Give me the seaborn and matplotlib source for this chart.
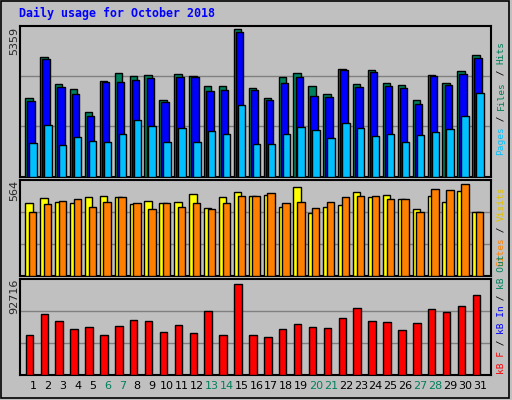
import numpy as np
import pandas as pd
import seaborn as sns
import matplotlib
matplotlib.use("Agg")
import matplotlib.pyplot as plt

days = list(range(1, 32))
weekends = [6, 7, 13, 14, 20, 21, 27, 28]

hits = [2855, 4343, 3363, 3182, 2347, 3472, 3762, 3653, 3690, 2783, 3726, 3653, 3291, 3291, 5359, 3218,
        2855, 3617, 3762, 3291, 3000, 3907, 3363, 3871, 3399, 3327, 2783, 3690, 3399, 3835, 4415]
files = [2746, 4270, 3254, 3000, 2202, 3436, 3436, 3508, 3581, 2710, 3617, 3617, 3109, 3146, 5250, 3146,
         2783, 3399, 3617, 2928, 2892, 3871, 3254, 3799, 3291, 3218, 2638, 3653, 3327, 3726, 4306]
pages = [1223, 1876, 1150, 1440, 1295, 1259, 1549, 2057, 1839, 1259, 1767, 1259, 1658, 1549, 2601, 1186,
         1186, 1549, 1803, 1694, 1404, 1948, 1767, 1477, 1549, 1259, 1513, 1622, 1731, 2202, 3037]
visits = [447, 478, 453, 447, 484, 490, 484, 441, 459, 447, 453, 502, 416, 484, 515, 490,
          496, 422, 546, 386, 422, 435, 515, 484, 496, 472, 410, 490, 453, 521, 392]
sites = [392, 441, 459, 472, 422, 453, 484, 447, 410, 447, 422, 447, 410, 447, 490, 490,
         509, 447, 453, 416, 453, 484, 490, 490, 472, 472, 392, 533, 527, 564, 392]
kbytes = [40754, 62150, 55018, 46867, 48905, 40754, 49924, 56037, 55018, 43811, 50943, 42792, 65207, 40754,
          92716, 40754, 38717, 46867, 51962, 48905, 47886, 58075, 68264, 55018, 54000, 45849, 52981, 67245,
          64189, 70302, 81509]

df = pd.DataFrame({"day": days, "hits": hits, "files": files, "pages": pages,
                   "visits": visits, "sites": sites, "kbytes": kbytes})

C_HITS, C_FILES, C_PAGES = "#00805c", "#0000ff", "#00c0ff"
C_VISITS, C_SITES, C_KB = "#ffff00", "#ff8000", "#ff0000"
GRAY = "#c0c0c0"
MONO = "DejaVu Sans Mono"

sns.set_style("white")
W, H = 512, 400
fig = plt.figure(figsize=(5.12, 4.0), dpi=100, facecolor=GRAY)


def px_axes(x0, y0, x1, y1):
    return fig.add_axes([x0 / W, 1 - y1 / H, (x1 - x0) / W, (y1 - y0) / H])


ax1 = px_axes(20, 25.7, 491, 176.7)
ax2 = px_axes(20, 180.3, 491, 276)
ax3 = px_axes(20, 279, 491, 375.3)

series = [
    (ax1, [("hits", C_HITS, -0.52), ("files", C_FILES, -0.38), ("pages", C_PAGES, -0.25)], 5359 * 151 / 147.7),
    (ax2, [("visits", C_VISITS, -0.52), ("sites", C_SITES, -0.27)], 564 * 95.7 / 91.7),
    (ax3, [("kbytes", C_KB, -0.49)], 92716 * 96.3 / 91),
]
for ax, cols, top in series:
    ax.set_facecolor(GRAY)
    for col, color, off in cols:
        ax.bar(df["day"] + off, df[col], width=0.5, align="edge", color=color,
               edgecolor="black", linewidth=1.0, zorder=3)
    ax.set_ylim(0, top)
    ax.set_xlim(0.13, 31.74)
    for g in (top / 3, 2 * top / 3):
        ax.axhline(g, color="#808080", linewidth=1, zorder=1)
    ax.set_yticks([])
    for s in ax.spines.values():
        s.set_color("black")
        s.set_linewidth(1.5)
    ax.set_xticks([])

ax3.set_xticks(days)
ax3.set_xticklabels([str(d) for d in days], fontsize=8)
ax3.tick_params(axis="x", length=0, pad=4)
for lbl, d in zip(ax3.get_xticklabels(), days):
    lbl.set_color(C_HITS if d in weekends else "black")

# title
fig.text(19 / W, 1 - 13 / H, "Daily usage for October 2018", color="#0000ff",
         fontsize=8.4, fontweight="bold", family=MONO, va="center", ha="left")

# left max labels
for txt, ytop in [("5359", 27), ("564", 180), ("92716", 279)]:
    fig.text(14 / W, 1 - ytop / H, txt, rotation=90, rotation_mode="anchor",
             ha="right", va="center", fontsize=8, family="DejaVu Sans")

# right legends, read bottom to top
FS = 6.8
CH = 0.602 * FS * 100 / 72


def legend(pieces, ybottom):
    y = ybottom
    for txt, color in pieces:
        fig.text(501 / W, 1 - y / H, txt, rotation=90, rotation_mode="anchor",
                 ha="left", va="center", color=color, fontsize=FS, family=MONO)
        y -= len(txt) * CH


legend([("Pages", C_PAGES), (" / ", "black"), ("Files", C_HITS), (" / ", "black"), ("Hits", C_HITS)], 155)
legend([("Sites", C_SITES), (" / ", "black"), ("Visits", "#e0c000")], 266)
legend([("kB F", C_KB), (" / ", "black"), ("kB In", C_FILES), (" / ", "black"), ("kB Out", C_HITS)], 374)

# outer border
fig.patches.append(plt.Rectangle((0.002, 0.004), 0.992, 0.993, transform=fig.transFigure,
                                 fill=False, edgecolor="black", linewidth=1.2))

fig.savefig("out.png", dpi=100, facecolor=GRAY)
